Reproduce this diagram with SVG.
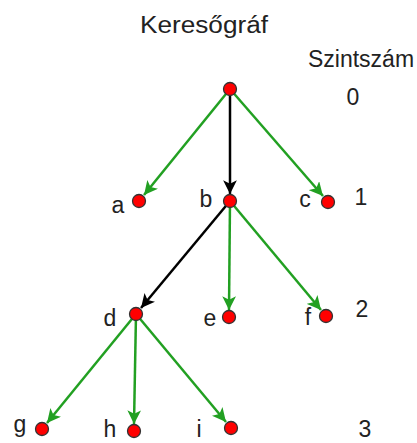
<svg xmlns="http://www.w3.org/2000/svg" width="417" height="443" viewBox="0 0 417 443">
<style>
text{font-family:"Liberation Sans",Arial,sans-serif;fill:#222;}
.lbl{font-size:23px;text-anchor:middle;}
.n{fill:#ff0000;stroke:#333;stroke-width:1.3;}
.g{stroke:#22a022;stroke-width:2.5;fill:none;marker-end:url(#ag);}
.k{stroke:#000;stroke-width:2.5;fill:none;marker-end:url(#ak);}
</style>
<defs>
<marker id="ag" viewBox="0 0 10 10" refX="10" refY="5" markerWidth="5.5" markerHeight="5.5" orient="auto" markerUnits="strokeWidth">
<path d="M0,0 L10,5 L0,10 L2.5,5 z" fill="#22a022"/>
</marker>
<marker id="ak" viewBox="0 0 10 10" refX="10" refY="5" markerWidth="5.5" markerHeight="5.5" orient="auto" markerUnits="strokeWidth">
<path d="M0,0 L10,5 L0,10 L2.5,5 z" fill="#000"/>
</marker>
</defs>
<text x="204" y="33" class="lbl" font-size="21" textLength="128" lengthAdjust="spacingAndGlyphs">Keresőgráf</text>
<text x="361" y="67" class="lbl" font-size="20">Szintszám</text>
<text x="353" y="105" class="lbl">0</text>
<text x="361" y="205" class="lbl">1</text>
<text x="362" y="317" class="lbl">2</text>
<text x="365" y="437" class="lbl">3</text>
<g id="connectors">
<line class="g" x1="230" y1="89" x2="144" y2="195"/>
<line class="k" x1="230" y1="89" x2="230" y2="194"/>
<line class="g" x1="230" y1="89" x2="323" y2="196"/>
<line class="k" x1="230" y1="201" x2="141" y2="308"/>
<line class="g" x1="230" y1="201" x2="229" y2="310"/>
<line class="g" x1="230" y1="201" x2="321" y2="310"/>
<line class="g" x1="136" y1="314" x2="47" y2="423"/>
<line class="g" x1="136" y1="314" x2="134" y2="424"/>
<line class="g" x1="136" y1="314" x2="226" y2="422"/>
</g>
<g id="root"><circle class="n" cx="230" cy="89" r="6.5"/></g>
<g id="a"><circle class="n" cx="139" cy="201" r="6.5"/><text class="lbl" x="118" y="213">a</text></g>
<g id="b"><circle class="n" cx="230" cy="201" r="6.5"/><text class="lbl" x="206" y="207">b</text></g>
<g id="c"><circle class="n" cx="328" cy="202" r="6.5"/><text class="lbl" x="305" y="207">c</text></g>
<g id="d"><circle class="n" cx="136" cy="314" r="6.5"/><text class="lbl" x="110" y="326">d</text></g>
<g id="e"><circle class="n" cx="229" cy="317" r="6.5"/><text class="lbl" x="210" y="326">e</text></g>
<g id="f"><circle class="n" cx="326" cy="316" r="6.5"/><text class="lbl" x="308" y="325">f</text></g>
<g id="g"><circle class="n" cx="42" cy="429" r="6.5"/><text class="lbl" x="20" y="432">g</text></g>
<g id="h"><circle class="n" cx="134" cy="431" r="6.5"/><text class="lbl" x="110" y="437">h</text></g>
<g id="i"><circle class="n" cx="231" cy="428" r="6.5"/><text class="lbl" x="199" y="437">i</text></g>
</svg>
